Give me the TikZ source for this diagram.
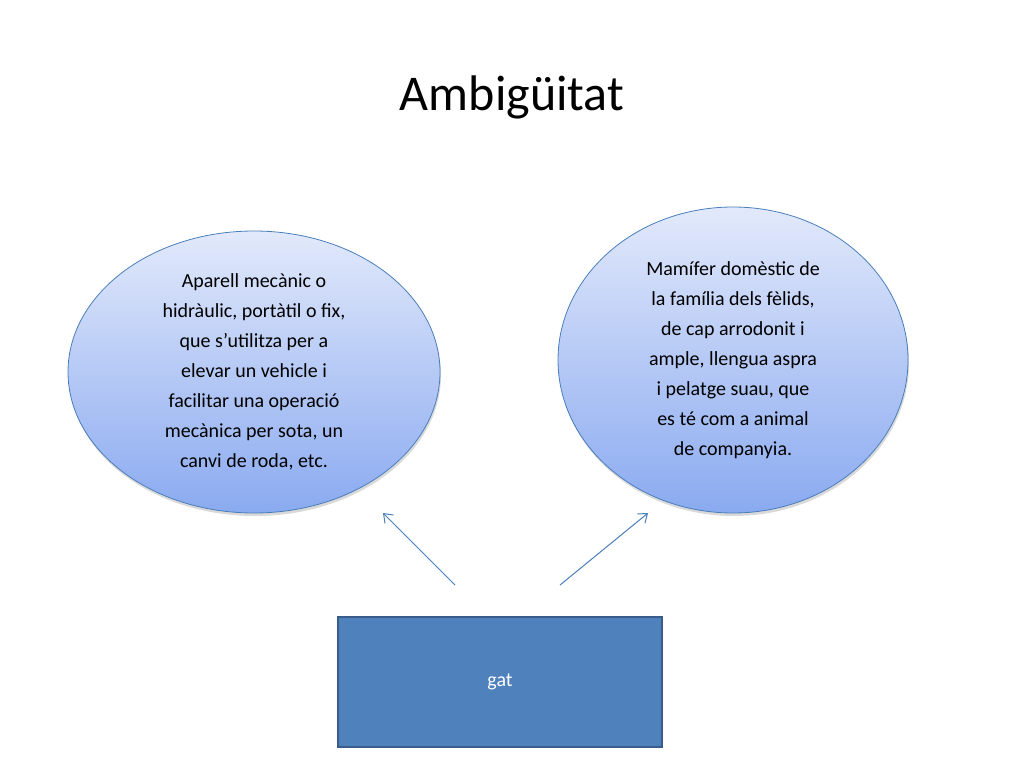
\documentclass[tikz,border=0pt]{standalone}
\usepackage{fontspec}
\setmainfont{Carlito}
\usetikzlibrary{shapes.geometric,arrows.meta,shadows}
\definecolor{ebord}{HTML}{4A7EBB}
\definecolor{etop}{HTML}{E2E9FB}
\definecolor{ebot}{HTML}{8AAAF0}
\definecolor{rfill}{HTML}{4F81BD}
\definecolor{rbord}{HTML}{385D8A}
\tikzset{
  oval/.style={ellipse, draw=ebord, line width=0.8pt, top color=etop, bottom color=ebot, align=center, font=\fontsize{20}{30}\selectfont, inner sep=0pt, drop shadow={shadow xshift=1pt, shadow yshift=-3pt, opacity=0.3}},
  conn/.style={draw=ebord, line width=1pt, -{Straight Barb[length=8pt,width=12pt]}}
}
\begin{document}
\begin{tikzpicture}[x=1pt,y=-1pt]
\useasboundingbox (0,0) rectangle (1024,768);
\node (title) at (512,97) {\fontsize{50}{60}\selectfont Ambigüitat};
\node[oval, minimum width=372pt, minimum height=282pt] (l) at (254,372)
 {Aparell mecànic o\\hidràulic, portàtil o fix,\\que s'utilitza per a\\elevar un vehicle i\\facilitar una operació\\mecànica per sota, un\\canvi de roda, etc.};
\node[oval, minimum width=350pt, minimum height=306pt] (r) at (733,360)
 {Mamífer domèstic de\\la família dels fèlids,\\de cap arrodonit i\\ample, llengua aspra\\i pelatge suau, que\\es té com a animal\\de companyia.};
\node[draw=rbord, line width=1.5pt, fill=rfill, minimum width=324pt, minimum height=130pt, text=white, font=\fontsize{20}{24}\selectfont] (g) at (500,682) {gat};
\coordinate (a1) at (455,585);
\coordinate (a2) at (383,513);
\coordinate (b1) at (560,585);
\coordinate (b2) at (648,513);
\draw[conn] (a1) -- (a2);
\draw[conn] (b1) -- (b2);
\end{tikzpicture}
\end{document}
